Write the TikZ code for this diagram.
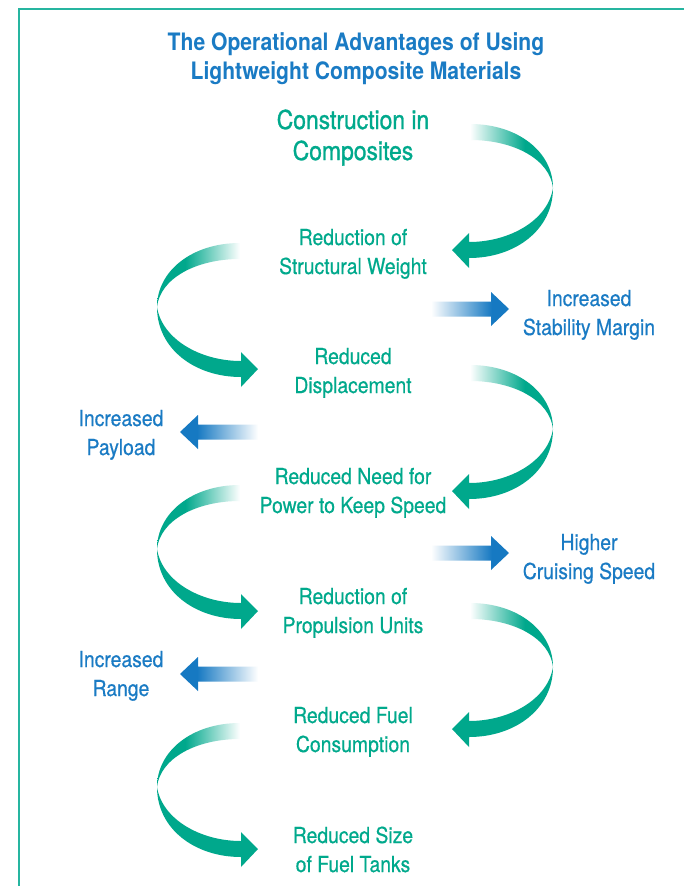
\documentclass[tikz,border=0pt]{standalone}
\usepackage{fontspec}
\setmainfont{TeX Gyre Heros}[FakeStretch=0.88]
\newfontfamily\bodyfont{TeX Gyre Heros}[FakeStretch=0.88,FakeBold=0.5]
\newfontfamily\medfont{TeX Gyre Heros}[FakeStretch=0.88,FakeBold=1.1]
\usetikzlibrary{calc}
\definecolor{teal1}{HTML}{00A88C}
\definecolor{tealtxt}{HTML}{00A98C}
\definecolor{blue1}{HTML}{1679C2}
\definecolor{bluetxt}{HTML}{1A7BC4}
\definecolor{framecol}{HTML}{26B5A0}
\pgfdeclarehorizontalshading{fadeR}{100bp}{color(0bp)=(white); color(25bp)=(white); color(58bp)=(teal1); color(100bp)=(teal1)}
\pgfdeclarehorizontalshading{fadeL}{100bp}{color(0bp)=(teal1); color(42bp)=(teal1); color(75bp)=(white); color(100bp)=(white)}
\pgfdeclarehorizontalshading{bfadeR}{100bp}{color(0bp)=(white); color(25bp)=(white); color(64bp)=(blue1); color(100bp)=(blue1)}
\pgfdeclarehorizontalshading{bfadeL}{100bp}{color(0bp)=(blue1); color(36bp)=(blue1); color(75bp)=(white); color(100bp)=(white)}
\newcommand\ribbonarrow[3]{% #1 start coordinate, #2 direction sign, #3 shading
  \begin{scope}[shift={(#1)}]
  \shade[shading=#3] (0,0) .. controls ({(#2)*48},0) and ({(#2)*83},28) .. ({(#2)*83},64)
     .. controls ({(#2)*80},36) and ({(#2)*45},16) .. (0,16) -- cycle;
  \fill[teal1] ({(#2)*83},64) .. controls ({(#2)*83},106) and ({(#2)*45},134) .. ({-(#2)*1},134)
     -- ({-(#2)*1},144) -- ({-(#2)*18},126) -- ({-(#2)*1},109) -- ({-(#2)*1},118)
     .. controls ({(#2)*40},118) and ({(#2)*78},96) .. ({(#2)*83},64) -- cycle;
  \end{scope}}
\newcommand\straightarrow[3]{% #1 tail coordinate, #2 sign, #3 shading
  \begin{scope}[shift={(#1)}]
  \shade[shading=#3] (0,-7.5) -- ({(#2)*60},-7.5) -- ({(#2)*60},-17) -- ({(#2)*78},0)
     -- ({(#2)*60},17) -- ({(#2)*60},7.5) -- (0,7.5) -- cycle;
  \end{scope}}
\tikzset{
  steptxt/.style={text=tealtxt, font=\bodyfont\fontsize{22}{29}\selectfont, align=center, inner sep=0pt, anchor=base},
  bigtxt/.style={steptxt, font=\medfont\fontsize{26}{31}\selectfont},
  sidetxt/.style={steptxt, text=bluetxt},
  titletxt/.style={steptxt, text=bluetxt, font=\fontsize{24}{29}\selectfont\bfseries},
}
\begin{document}
\begin{tikzpicture}[x=1pt,y=-1pt]
\useasboundingbox (0,0) rectangle (684,886);
\fill[white] (0,0) rectangle (684,886);
% frame
\coordinate (fA) at (684,9);
\coordinate (fB) at (19,9);
\coordinate (fC) at (19,886);
\draw[framecol, line width=1.3pt] (fA) -- (fB) -- (fC);
% texts (anchor = baseline of the last line)
\node[titletxt] (title) at (356,79) {The Operational Advantages of Using\\Lightweight Composite Materials};
\node[bigtxt] (s0) at (353,160) {Construction in\\Composites};
\node[steptxt] (s1) at (353,274) {Reduction of\\Structural Weight};
\node[sidetxt] (b1) at (589,335) {Increased\\Stability Margin};
\node[steptxt] (s2) at (353,393) {Reduced\\Displacement};
\node[sidetxt] (b2) at (121,455) {Increased\\Payload};
\node[steptxt] (s3) at (353,513) {Reduced Need for\\Power to Keep Speed};
\node[sidetxt] (b3) at (589,579) {Higher\\Cruising Speed};
\node[steptxt] (s4) at (353,633) {Reduction of\\Propulsion Units};
\node[sidetxt] (b4) at (121,696) {Increased\\Range};
\node[steptxt] (s5) at (353,752) {Reduced Fuel\\Consumption};
\node[steptxt] (s6) at (353,872) {Reduced Size\\of Fuel Tanks};
% curved arrows
\coordinate (r1) at (470,124);
\coordinate (l1) at (240,243);
\coordinate (r2) at (470,365);
\coordinate (l2) at (240,485);
\coordinate (r3) at (470,603);
\coordinate (l3) at (240,723);
\ribbonarrow{r1}{1}{fadeR}
\ribbonarrow{l1}{-1}{fadeL}
\ribbonarrow{r2}{1}{fadeR}
\ribbonarrow{l2}{-1}{fadeL}
\ribbonarrow{r3}{1}{fadeR}
\ribbonarrow{l3}{-1}{fadeL}
% straight arrows
\coordinate (a1) at (431,309);
\coordinate (a2) at (258,432);
\coordinate (a3) at (431,553);
\coordinate (a4) at (258,674);
\straightarrow{a1}{1}{bfadeR}
\straightarrow{a2}{-1}{bfadeL}
\straightarrow{a3}{1}{bfadeR}
\straightarrow{a4}{-1}{bfadeL}
\end{tikzpicture}
\end{document}
